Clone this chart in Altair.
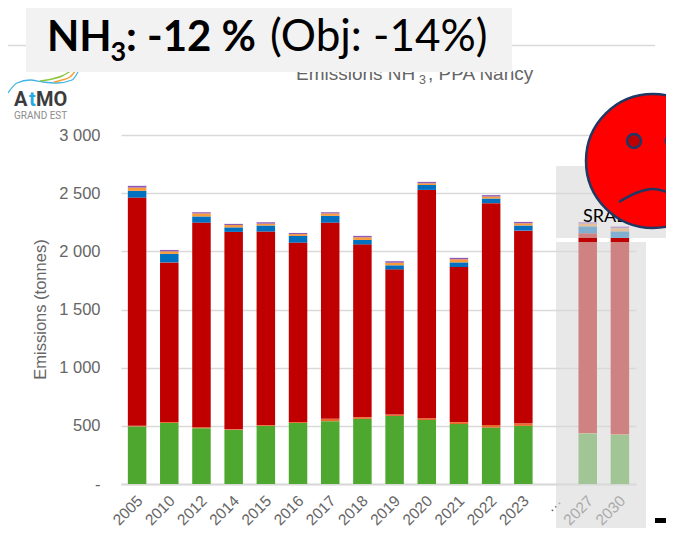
import altair as alt
import pandas as pd

years = ["2005","2010","2012","2014","2015","2016","2017","2018","2019","2020","2021","2022","2023","…","2027","2030"]
bar_years = ["2005","2010","2012","2014","2015","2016","2017","2018","2019","2020","2021","2022","2023","2027","2030"]
green  = [495,525,480,465,500,525,540,560,585,550,515,485,500,435,425]
orange = [5,8,8,5,8,8,20,15,12,15,17,22,22,3,3]
red    = [1962,1372,1759,1697,1662,1542,1687,1485,1248,1963,1333,1907,1656,1717,1687]
blue   = [58,73,53,39,52,57,58,38,35,42,40,40,44,60,57]
amber  = [28,22,26,20,16,16,21,23,22,15,27,17,19,23,26]
purple = [15,12,10,10,12,10,10,12,13,12,12,12,12,12,15]
series_names = ["Agriculture","Industrie","Elevage","Transport","Residentiel","Autres"]
series_values = [green, orange, red, blue, amber, purple]
series_colors = ["#4ea72e","#e8692a","#c00000","#0070c0","#f79a3a","#8e58b6"]

OX, OY = 121, 135          # page position of the plot area origin
W, H = 515, 349

rows = []
for k, (name, vals) in enumerate(zip(series_names, series_values)):
    for y, v in zip(bar_years, vals):
        rows.append({"year": y, "serie": name, "value": v, "k": k})
df = pd.DataFrame(rows)

one = pd.DataFrame({"a": [0]})

def px(v): return alt.value(v - OX)
def py(v): return alt.value(v - OY)

def rect(x0, x1, y0, y1, color, opacity=1.0):
    return alt.Chart(one).mark_rect(color=color, opacity=opacity).encode(
        x=px(x0), x2=px(x1), y=py(y0), y2=py(y1))

def text(s, x, y, size, color="#000000", font="Lato", weight="normal", align="left"):
    return alt.Chart(pd.DataFrame({"t": [s]})).mark_text(
        font=font, fontSize=size, color=color, fontWeight=weight, align=align, baseline="alphabetic"
    ).encode(text="t:N", x=px(x), y=py(y))

def curve(points, color, width, interp="monotone"):
    d = pd.DataFrame({"x": [p[0] - OX for p in points], "y": [p[1] - OY for p in points], "o": range(len(points))})
    return alt.Chart(d).mark_line(color=color, strokeWidth=width, interpolate=interp, clip=False).encode(
        x=alt.X("x:Q", scale=None, axis=None),
        y=alt.Y("y:Q", scale=None, axis=None),
        order="o:Q")

def dot(x, y, diam, fill, stroke, sw):
    return alt.Chart(one).mark_point(shape="circle", filled=True, fill=fill, stroke=stroke,
                                     strokeWidth=sw, size=diam * diam, opacity=1).encode(x=px(x), y=py(y))

bars = alt.Chart(df).mark_bar(width=18.5).encode(
    x=alt.X("year:N", sort=years, scale=alt.Scale(domain=years, paddingInner=0.425, paddingOuter=0.2125),
            axis=alt.Axis(title=None, labelAngle=-45, labelAlign="right", labelBaseline="top", labelFontSize=15.5,
                          labelFont="Liberation Sans", labelColor="#666666", ticks=False, grid=False,
                          domain=True, domainColor="#d9d9d9", domainWidth=2, labelPadding=9, labelOffset=-2,
                          labelOverlap=False)),
    y=alt.Y("value:Q", stack="zero", scale=alt.Scale(domain=[0, 3000], nice=False),
            axis=alt.Axis(title="Emissions (tonnes)", values=[0, 500, 1000, 1500, 2000, 2500, 3000],
                          labelExpr="datum.value == 0 ? '-' : replace(format(datum.value, ','), ',', ' ')",
                          labelFontSize=16.5, labelFont="Liberation Sans", labelColor="#666666",
                          titleFontSize=16.5, titleFont="Liberation Sans", titleColor="#666666", titleFontWeight="normal",
                          titleX=-73, titleY=174, ticks=False, domain=False, grid=True, gridColor="#d9d9d9",
                          gridWidth=1.5, labelPadding=21)),
    color=alt.Color("serie:N", scale=alt.Scale(domain=series_names, range=series_colors), legend=None),
    order=alt.Order("k:Q"),
)

layers = [
    bars,
    rect(556, 646, 242, 536, "#d9d9d9", 0.6),
    rect(556, 674, 166, 238, "#d9d9d9", 0.6),
    # frame
    curve([(8, 45.5), (655, 45.5)], "#d9d9d9", 1.5, "linear"),
    # chart title, hidden in part by the box above it
    text("Emissions NH", 296, 80, 19, "#666666", "Liberation Sans"),
    text("3", 419, 84, 12.5, "#666666", "Liberation Sans"),
    text(", PPA Nancy", 428, 80, 19, "#666666", "Liberation Sans"),
    # logo swooshes
    curve([(8, 93), (17, 83), (30, 80), (43, 82), (57, 83), (72, 80), (78, 72)], "#41b4e6", 1.3),
    curve([(40, 81), (52, 79), (62, 76), (72, 70)], "#8cc63f", 1.5),
    curve([(54, 82), (62, 80), (70, 77), (76, 70)], "#f7a13a", 1.5),
    rect(26, 512, 0, 72, "#f2f2f2"),
    text("NH", 47, 51, 42, "#000000", "Lato", "bold"),
    text("3", 110.5, 61, 27, "#000000", "Lato", "bold"),
    text(": -12 %", 126, 51, 42, "#000000", "Lato", "bold"),
    text("(Obj: -14%)", 270, 51, 44, "#000000", "Lato"),
    # logo text
    text("A", 14, 106, 20, "#3c3c3c", "Roboto", "bold"),
    text("t", 29, 106, 20, "#29a9df", "Roboto", "bold"),
    text("MO", 36, 106, 20, "#3c3c3c", "Roboto", "bold"),
    text("GRAND EST", 14, 119, 10, "#8c8c8c", "Roboto"),
    text("SRADDET", 583, 222, 18, "#000000", "Lato"),
    # smiley
    dot(653, 161, 134, "#ff0000", "#1f3864", 2.5),
    dot(634, 141, 14, "#c00000", "#1f3864", 2.5),
    dot(673, 141, 14, "#c00000", "#1f3864", 2.5),
    curve([(619, 202), (636, 193), (653, 189), (670, 193), (687, 202)], "#1f3864", 2.5),
    # black rule at the page's right
    rect(655, 674, 518, 523, "#000000"),
]

chart = alt.layer(*layers).resolve_scale(x="independent", y="independent", color="independent").properties(
    width=W, height=H,
    autosize=alt.AutoSizeParams(type="none"),
    padding={"left": OX - 8, "top": OY - 8, "right": 666 - OX - W, "bottom": 528 - OY - H},
).configure_view(stroke=None)

chart.save("out.html", embed_options={"renderer": "svg", "actions": False})
